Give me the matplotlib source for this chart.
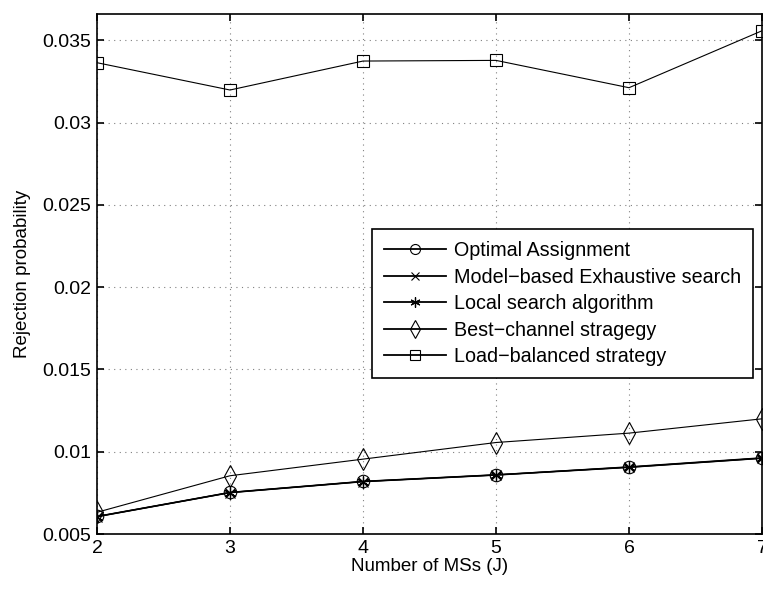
import matplotlib.pyplot as plt
import numpy as np

plt.rcParams['font.family'] = ['Liberation Sans', 'DejaVu Sans']

num_ms = [2, 3, 4, 5, 6, 7]
optimal = [0.00607, 0.00753, 0.00820, 0.00860, 0.00906, 0.00961]
model_based = [0.00606, 0.00752, 0.00819, 0.00859, 0.00908, 0.00963]
local_search = [0.00605, 0.00751, 0.00818, 0.00858, 0.00905, 0.00960]
best_channel = [0.00632, 0.00854, 0.00955, 0.01056, 0.01113, 0.01200]
load_balanced = [0.03364, 0.03198, 0.03374, 0.03378, 0.03212, 0.03558]

labels = ["Optimal Assignment", "Model\u2212based Exhaustive search",
          "Local search algorithm", "Best\u2212channel stragegy",
          "Load\u2212balanced strategy"]

# MATLAB-style asterisk marker
asterisk = (6, 2, 0)

fig = plt.figure(figsize=(7.63, 5.9), dpi=100)
ax = fig.add_axes([0.1271, 0.0949, 0.8716, 0.8814])

ax.plot(num_ms, optimal, color="black", lw=1.0, marker="o", ms=9, mfc="none", mew=0.8, label=labels[0])
ax.plot(num_ms, model_based, color="black", lw=1.0, marker="x", ms=7, mfc="none", mew=0.8, label=labels[1])
ax.plot(num_ms, local_search, color="black", lw=1.0, marker=asterisk, ms=9, mfc="none", mew=0.9, label=labels[2])
ax.plot(num_ms, best_channel, color="black", lw=0.8, marker="d", ms=11, mfc="none", mew=0.8, label=labels[3])
ax.plot(num_ms, load_balanced, color="black", lw=0.8, marker="s", ms=9, mfc="none", mew=0.8, label=labels[4])

ax.set_xlim(2, 7)
ax.set_ylim(0.005, 0.0366)
ax.set_xticks(num_ms)
ax.set_yticks([0.005, 0.01, 0.015, 0.02, 0.025, 0.03, 0.035])
ax.set_yticklabels(["0.005", "0.01", "0.015", "0.02", "0.025", "0.03", "0.035"])
ax.tick_params(direction="in", top=True, right=True, labelsize=14, length=5, width=1.2, pad=4)
ax.grid(True, linestyle=(0, (1, 4)), color="gray", lw=0.8)
for s in ax.spines.values():
    s.set_linewidth(1.2)

ax.set_xlabel("Number of MSs (J)", fontsize=13.5, labelpad=1)
ax.set_ylabel("Rejection probability", fontsize=13.5, labelpad=8)

leg = ax.legend(loc="upper left", bbox_to_anchor=(0.4135, 0.586), fontsize=14.2,
                fancybox=False, edgecolor="black", framealpha=1, markerscale=0.8,
                handlelength=3.15, handletextpad=0.4, borderpad=0.6,
                labelspacing=0.38, borderaxespad=0)
leg.get_frame().set_linewidth(1.2)
for line in leg.get_lines():
    line.set_linewidth(1.3)

fig.savefig("out.png", dpi=100)
